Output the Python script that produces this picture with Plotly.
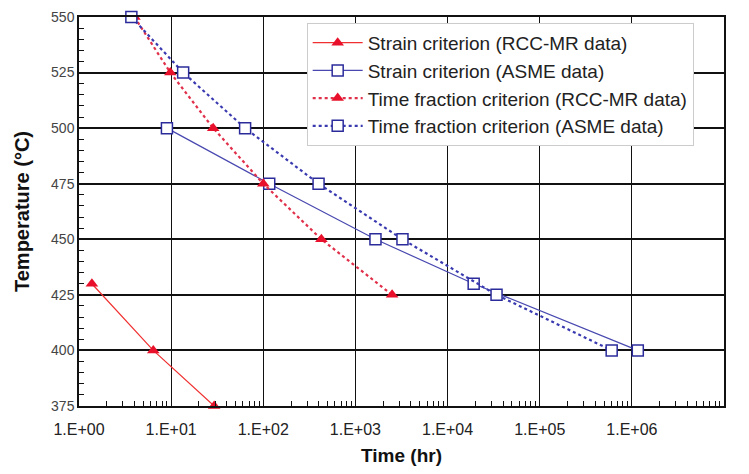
"""Creep-fatigue criteria: temperature vs allowable time."""
import plotly.graph_objects as go

FONT = "Arial, Liberation Sans, sans-serif"

# Strain criterion (RCC-MR data)
strain_rcc_time = [1.38, 6.4, 29.3]
strain_rcc_temp = [430, 400, 375]

# Strain criterion (ASME data)
strain_asme_time = [9.0, 116, 1650, 19200, 1.16e6]
strain_asme_temp = [500, 475, 450, 430, 400]

# Time fraction criterion (RCC-MR data)
tf_rcc_time = [4.0, 9.8, 28.6, 100, 427, 2500]
tf_rcc_temp = [550, 525, 500, 475, 450, 425]

# Time fraction criterion (ASME data)
tf_asme_time = [3.7, 13.5, 63.5, 398, 3240, 34000, 604000]
tf_asme_temp = [550, 525, 500, 475, 450, 425, 400]

x_ticks = [1, 10, 100, 1e3, 1e4, 1e5, 1e6, 1e7]
x_labels = ["1.E+00", "1.E+01", "1.E+02", "1.E+03", "1.E+04",
            "1.E+05", "1.E+06", "1.E+07"]
x_minor = [m * 10 ** d for d in range(7) for m in range(2, 10)]
y_ticks = [375, 400, 425, 450, 475, 500, 525, 550]

RED = "#e8102a"
BLUE = "#2b2b9c"

fig = go.Figure()
fig.add_trace(go.Scatter(
    x=strain_rcc_time, y=strain_rcc_temp, mode="lines+markers",
    name="Strain criterion (RCC-MR data)",
    line=dict(color="#f03030", width=1.2),
    marker=dict(symbol="triangle-up", size=11, color=RED),
    cliponaxis=False,
))
fig.add_trace(go.Scatter(
    x=strain_asme_time, y=strain_asme_temp, mode="lines+markers",
    name="Strain criterion (ASME data)",
    line=dict(color="#4848b0", width=1.2),
    marker=dict(symbol="square", size=11, color="white",
                line=dict(color=BLUE, width=1.5)),
    cliponaxis=False,
))
fig.add_trace(go.Scatter(
    x=tf_rcc_time, y=tf_rcc_temp, mode="lines+markers",
    name="Time fraction criterion (RCC-MR data)",
    line=dict(color="#e0304a", width=2.2, dash="dot"),
    marker=dict(symbol="triangle-up", size=11, color=RED),
    cliponaxis=False,
))
fig.add_trace(go.Scatter(
    x=tf_asme_time, y=tf_asme_temp, mode="lines+markers",
    name="Time fraction criterion (ASME data)",
    line=dict(color="#3a3ab0", width=2.2, dash="dot"),
    marker=dict(symbol="square", size=11, color="white",
                line=dict(color=BLUE, width=1.5)),
    cliponaxis=False,
))

# page body adds an 8px margin, so the figure is sized to fit inside it
fig.update_layout(
    width=733, height=458,
    paper_bgcolor="white", plot_bgcolor="white",
    margin=dict(l=71, r=17, t=9, b=60),
    font=dict(family=FONT, size=12, color="#222"),
    showlegend=True,
    legend=dict(
        x=0.353, y=0.985, xanchor="left", yanchor="top",
        bgcolor="white", bordercolor="#cccccc", borderwidth=1,
        font=dict(family=FONT, size=19, color="#222"),
        itemwidth=50, tracegroupgap=0,
    ),
    xaxis=dict(
        type="log", range=[0, 7], automargin=False,
        tickvals=x_ticks, ticktext=x_labels, ticklabelstandoff=8,
        ticks="", ticklen=0,
        showgrid=True, gridcolor="#111", gridwidth=1,
        showline=True, linecolor="#111", linewidth=1.5, mirror=True,
        zeroline=False,
        minor=dict(tickvals=x_minor, ticks="inside", ticklen=5,
                   tickcolor="#111", showgrid=False),
        tickfont=dict(size=16, color="#222"),
        title=dict(text="<b>Time (hr)</b>", font=dict(size=19, color="#111"),
                   standoff=18),
    ),
    yaxis=dict(
        range=[375, 550], automargin=False,
        tickvals=y_ticks, ticklabeloverflow="allow",
        ticks="inside", ticklen=8, tickcolor="#111",
        showgrid=True, gridcolor="#111", gridwidth=1.5,
        showline=True, linecolor="#111", linewidth=1.5, mirror=True,
        zeroline=False,
        minor=dict(dtick=5, ticks="inside", ticklen=5, tickcolor="#111",
                   showgrid=False),
        tickfont=dict(size=14, color="#444"),
        title=dict(text="<b>Temperature (\u00b0C)</b>",
                   font=dict(size=20, color="#111"), standoff=16),
    ),
)

fig.write_html("out.html")
